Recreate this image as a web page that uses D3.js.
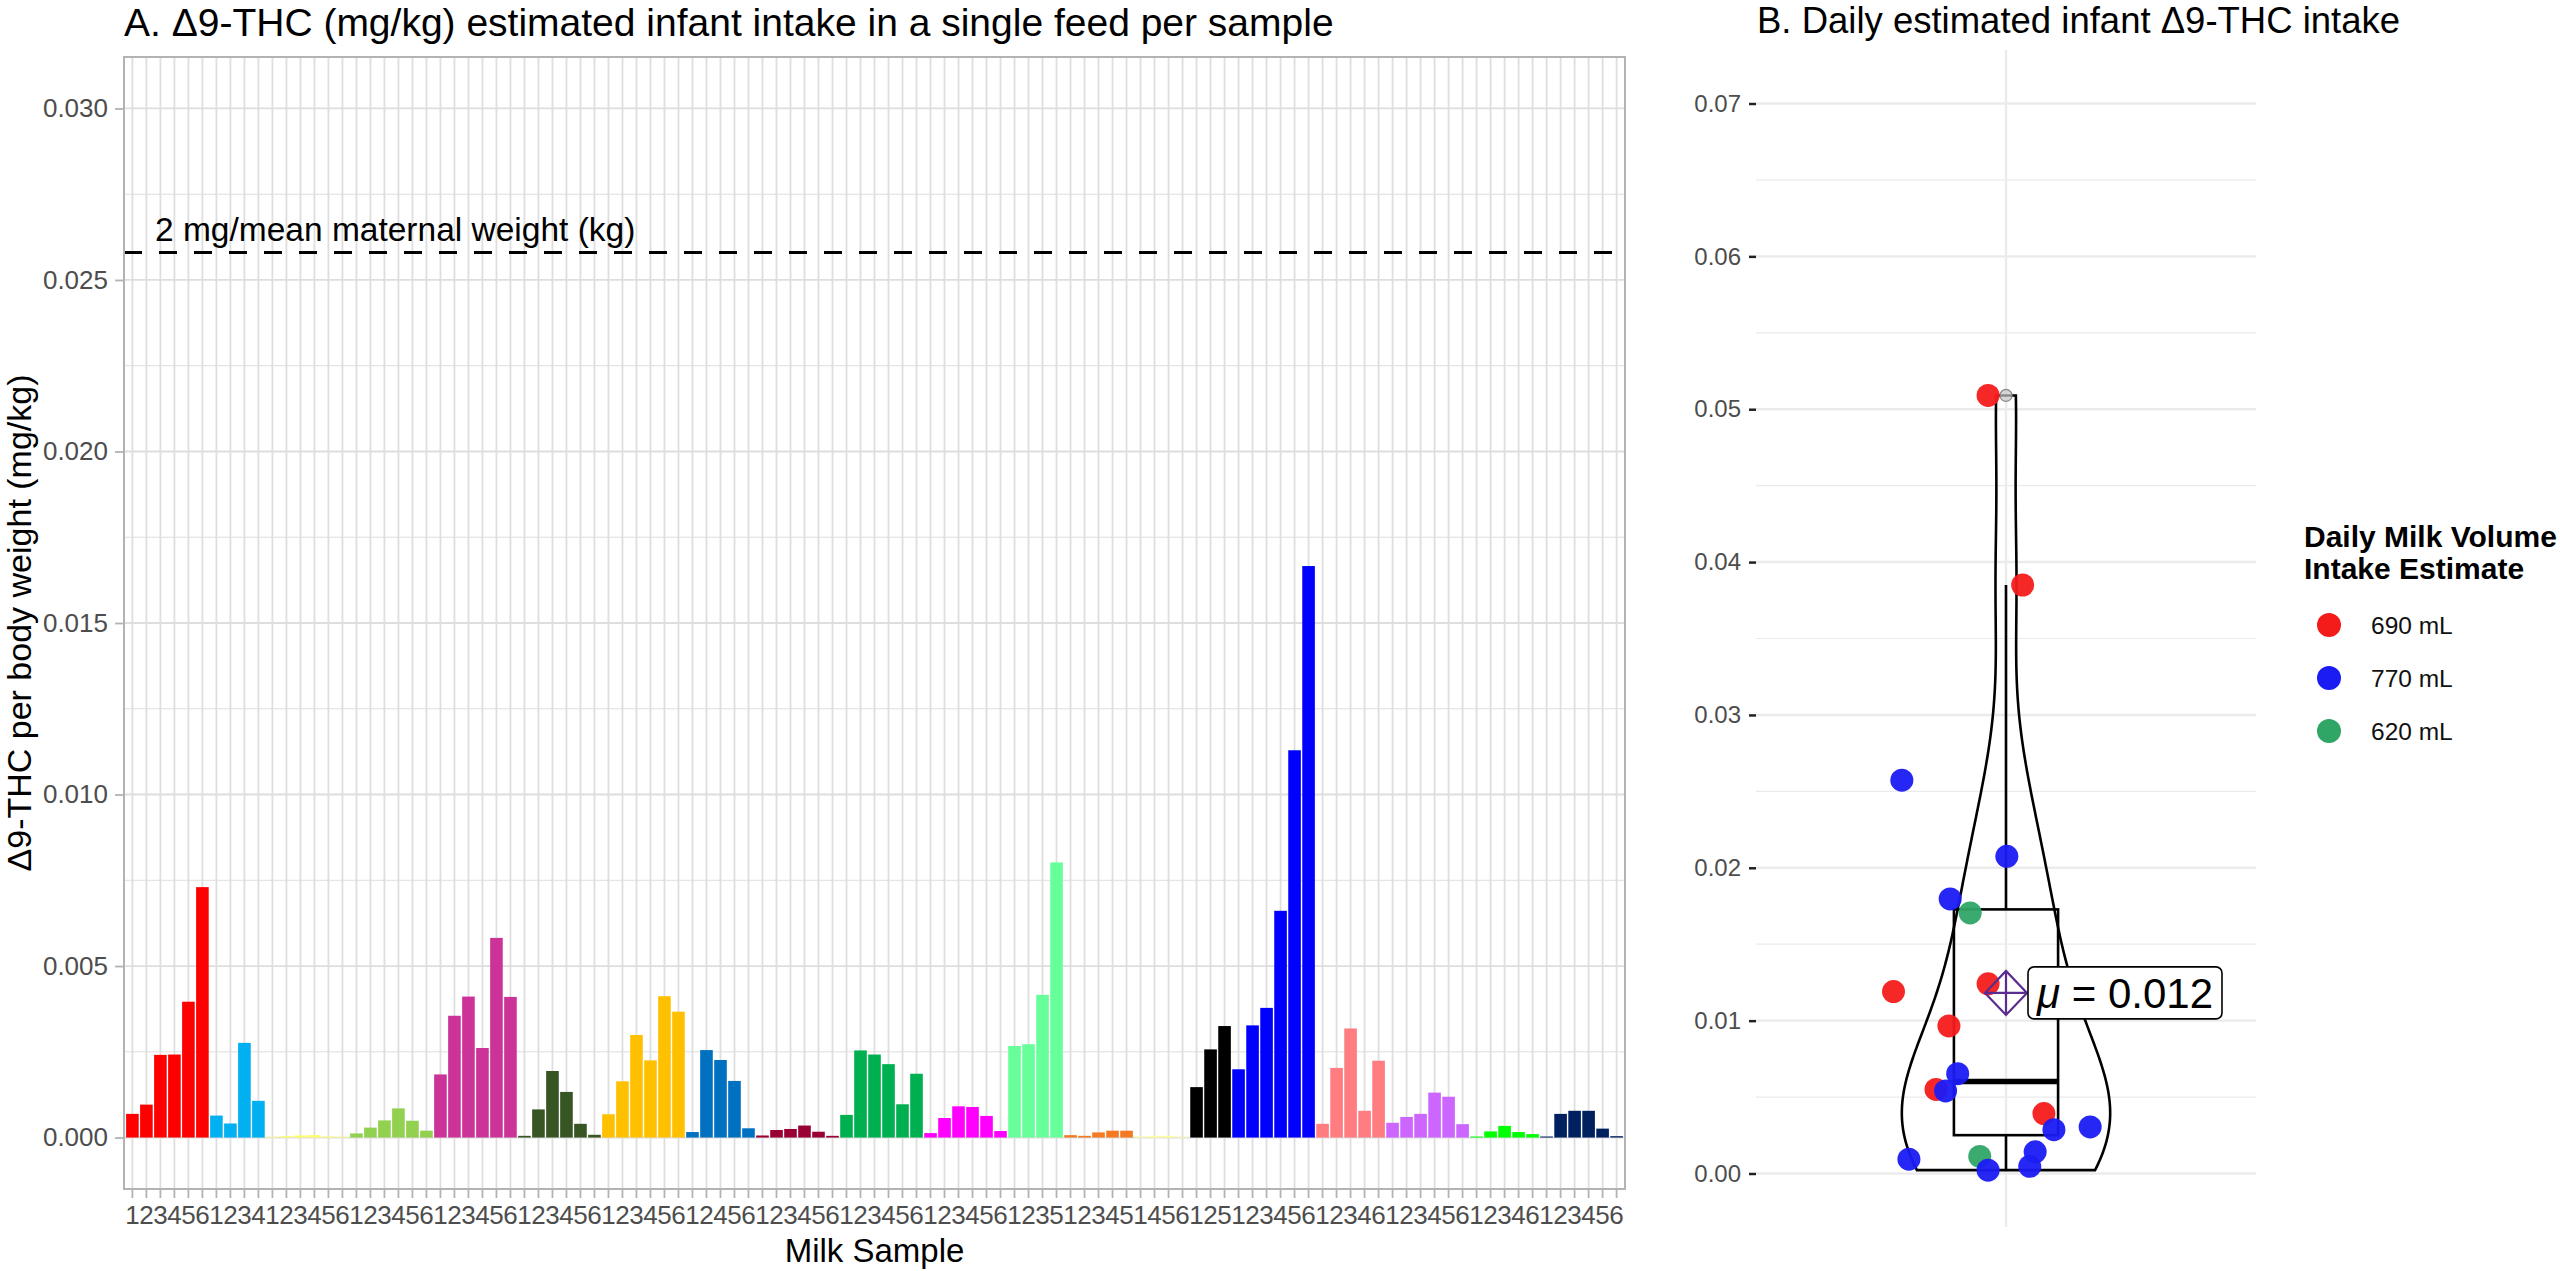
<!DOCTYPE html>
<html><head><meta charset="utf-8">
<script src="https://cdn.jsdelivr.net/npm/d3@7"></script>
<style>
body{margin:0;background:#fff}
svg{display:block}
text{font-family:"Liberation Sans",Arial,Helvetica,sans-serif}
</style>
</head><body>
<svg id="chart" width="2560" height="1271"></svg>
<script>
// ---------- Panel A data ----------
const groupColors = ["#FF0000","#00B0F0","#FFFF66","#92D050","#CC3399","#375623","#FFC000","#0070C0","#990033","#00B050",
                     "#FF00FF","#66FF99","#F47920","#FFFF99","#000000","#0000FF","#FF7C80","#CC66FF","#00FF00","#002060"];
const sampleIds = [
  [1,2,3,4,5,6],[1,2,3,4],[1,2,3,4,5,6],[1,2,3,4,5,6],[1,2,3,4,5,6],
  [1,2,3,4,5,6],[1,2,3,4,5,6],[1,2,4,5,6],[1,2,3,4,5,6],[1,2,3,4,5,6],
  [1,2,3,4,5,6],[1,2,3,5],[1,2,3,4,5],[1,4,5,6],[1,2,5],
  [1,2,3,4,5,6],[1,2,3,4,6],[1,2,3,4,5,6],[1,2,3,4,6],[1,2,3,4,5,6]
];
const thcValues = [
  [0.00069,0.00096,0.00241,0.00242,0.00396,0.0073],
  [0.00064,0.00041,0.00276,0.00107],
  [0.00002,0.00004,0.00006,0.00007,0.00003,0.00002],
  [0.00012,0.00029,0.0005,0.00085,0.00049,0.0002],
  [0.00184,0.00355,0.00411,0.00261,0.00582,0.0041],
  [0.00005,0.00082,0.00194,0.00133,0.0004,0.00008],
  [0.00068,0.00164,0.00299,0.00225,0.00412,0.00367],
  [0.00016,0.00255,0.00226,0.00165,0.00027],
  [0.00006,0.00022,0.00025,0.00035,0.00017,0.00005],
  [0.00066,0.00254,0.00242,0.00214,0.00097,0.00186],
  [0.00013,0.00057,0.00091,0.00089,0.00063,0.00019],
  [0.00267,0.00272,0.00416,0.00802],
  [0.00007,0.00005,0.00015,0.0002,0.0002],
  [0.00003,0.00005,0.00005,0.00002],
  [0.00147,0.00257,0.00325],
  [0.00199,0.00327,0.00378,0.00661,0.01129,0.01666],
  [0.0004,0.00203,0.00318,0.00078,0.00224],
  [0.00043,0.0006,0.00069,0.00131,0.00119,0.00039],
  [0.00003,0.00018,0.00034,0.00016,0.0001],
  [0.00003,0.00069,0.00078,0.00078,0.00026,0.00004]
];
const refLineValue = 0.0258;
const refLineLabel = "2 mg/mean maternal weight (kg)";
const yTicksA = [0,0.005,0.010,0.015,0.020,0.025,0.030];

// ---------- Panel B data ----------
const dailyValues = [0.0509,0.0385,0.02573,0.02075,0.01796,0.01705,0.0119,0.01241,0.00965,0.00653,
                     0.0055,0.0054,0.00392,0.00287,0.00305,0.00094,0.00112,0.00022,0.00047,0.00142];
const dailyGroup = ["690 mL","690 mL","770 mL","770 mL","770 mL","620 mL","690 mL","690 mL","690 mL","770 mL",
                    "690 mL","770 mL","690 mL","770 mL","770 mL","770 mL","620 mL","770 mL","770 mL","770 mL"];
const dailyJitter = [-0.043,0.040,-0.250,0.002,-0.134,-0.086,-0.270,-0.043,-0.137,-0.116,
                     -0.168,-0.145,0.091,0.115,0.202,-0.233,-0.063,-0.043,0.057,0.070];
const legendLevels = ["690 mL","770 mL","620 mL"];
const legendColors = ["#F41B1B","#1B1BF4","#2FA566"];
const yTicksB = [0,0.01,0.02,0.03,0.04,0.05,0.06,0.07];

// ---------- Drawing ----------
const svg = d3.select('#chart');
svg.append('rect').attr('width',2560).attr('height',1271).attr('fill','#fff');

// ===== Panel A =====
const A = {left:124,right:1625,top:57,bottom:1189};
const bars = [];
groupColors.forEach((c,g)=>{
  sampleIds[g].forEach((s,j)=>bars.push({key:bars.length,label:String(s),value:thcValues[g][j],color:c}));
});
const xA = d3.scaleBand().domain(bars.map(d=>d.key)).range([A.left,A.right]).paddingInner(0.1).paddingOuter(0.15);
const yA = d3.scaleLinear().domain([-0.0015,0.0315]).range([A.bottom,A.top]);
const gA = svg.append('g');

// minor grid
const minorA = d3.range(0.0025,0.031,0.005);
gA.selectAll('line.minA').data(minorA).join('line')
  .attr('x1',A.left).attr('x2',A.right).attr('y1',d=>yA(d)).attr('y2',d=>yA(d))
  .attr('stroke','#DEDEDE').attr('stroke-width',1);
// major grid
gA.selectAll('line.majA').data(yTicksA).join('line')
  .attr('x1',A.left).attr('x2',A.right).attr('y1',d=>yA(d)).attr('y2',d=>yA(d))
  .attr('stroke','#DEDEDE').attr('stroke-width',1.8);
gA.selectAll('line.vA').data(bars).join('line')
  .attr('y1',A.top).attr('y2',A.bottom)
  .attr('x1',d=>xA(d.key)+xA.bandwidth()/2).attr('x2',d=>xA(d.key)+xA.bandwidth()/2)
  .attr('stroke','#DEDEDE').attr('stroke-width',1.8);

// bars
gA.selectAll('rect.bar').data(bars).join('rect')
  .attr('x',d=>xA(d.key)).attr('width',xA.bandwidth())
  .attr('y',d=>yA(d.value)).attr('height',d=>yA(0)-yA(d.value))
  .attr('fill',d=>d.color);

// reference line
gA.append('line').attr('x1',A.left).attr('x2',A.right)
  .attr('y1',yA(refLineValue)).attr('y2',yA(refLineValue))
  .attr('stroke','#000').attr('stroke-width',3).attr('stroke-dasharray','18 17');
gA.append('text').attr('x',155).attr('y',yA(refLineValue)-12)
  .attr('font-size',33.5).attr('fill','#000').text(refLineLabel);

// border
gA.append('rect').attr('x',A.left).attr('y',A.top).attr('width',A.right-A.left).attr('height',A.bottom-A.top)
  .attr('fill','none').attr('stroke','#B3B3B3').attr('stroke-width',2);

// axes
const axL = gA.append('g').attr('transform',`translate(${A.left},0)`)
  .call(d3.axisLeft(yA).tickValues(yTicksA).tickFormat(d3.format('.3f')).tickSize(9).tickPadding(7));
axL.select('.domain').remove();
axL.selectAll('line').attr('stroke','#B3B3B3').attr('stroke-width',1.8);
axL.selectAll('text').attr('font-size',26).attr('fill','#4D4D4D').attr('font-family','"Liberation Sans",Arial,sans-serif');
const axB = gA.append('g').attr('transform',`translate(0,${A.bottom})`)
  .call(d3.axisBottom(xA).tickFormat(k=>bars[k].label).tickSize(9).tickPadding(8));
axB.select('.domain').remove();
axB.selectAll('line').attr('stroke','#B3B3B3').attr('stroke-width',1.8);
axB.selectAll('text').attr('font-size',26).attr('fill','#4D4D4D').attr('font-family','"Liberation Sans",Arial,sans-serif');

gA.append('text').attr('x',(A.left+A.right)/2).attr('y',1262).attr('text-anchor','middle')
  .attr('font-size',33).text('Milk Sample');
gA.append('text').attr('transform',`translate(31,${(A.top+A.bottom)/2}) rotate(-90)`).attr('text-anchor','middle')
  .attr('font-size',34).text('Δ9-THC per body weight (mg/kg)');
gA.append('text').attr('x',124).attr('y',36).attr('font-size',39)
  .text('A. Δ9-THC (mg/kg) estimated infant intake in a single feed per sample');

// ===== Panel B =====
const B = {left:1756,right:2256,top:50,bottom:1227};
const xB = d3.scaleLinear().domain([0.4,1.6]).range([B.left,B.right]);
const yB = d3.scaleLinear().domain([-0.0035,0.0735]).range([B.bottom,B.top]);
const gB = svg.append('g');
const minorB = d3.range(0.005,0.07,0.01);
gB.selectAll('line.minB').data(minorB).join('line')
  .attr('x1',B.left).attr('x2',B.right).attr('y1',d=>yB(d)).attr('y2',d=>yB(d))
  .attr('stroke','#EBEBEB').attr('stroke-width',1.2);
gB.selectAll('line.majB').data(yTicksB).join('line')
  .attr('x1',B.left).attr('x2',B.right).attr('y1',d=>yB(d)).attr('y2',d=>yB(d))
  .attr('stroke','#EBEBEB').attr('stroke-width',2.4);
gB.append('line').attr('x1',xB(1)).attr('x2',xB(1)).attr('y1',B.top).attr('y2',B.bottom)
  .attr('stroke','#EBEBEB').attr('stroke-width',2.4);

const axBL = gB.append('g').attr('transform',`translate(${B.left},0)`)
  .call(d3.axisLeft(yB).tickValues(yTicksB).tickFormat(d3.format('.2f')).tickSize(7).tickPadding(8));
axBL.select('.domain').remove();
axBL.selectAll('line').attr('stroke','#222').attr('stroke-width',2.5);
axBL.selectAll('text').attr('font-size',24).attr('fill','#4D4D4D').attr('font-family','"Liberation Sans",Arial,sans-serif');

// stats
const sorted = dailyValues.slice().sort(d3.ascending);
const n = sorted.length;
const q1 = d3.quantile(sorted,0.25), med = d3.quantile(sorted,0.5), q3 = d3.quantile(sorted,0.75);
const iqr = q3-q1;
const sd = d3.deviation(sorted);
const bw = 0.9*Math.min(sd, iqr/1.34)*Math.pow(n,-0.2);
const lo = d3.min(sorted), hi = d3.max(sorted);
const grid = d3.range(512).map(i=>lo+(hi-lo)*i/511);
const dens = grid.map(y=>({y, d:d3.mean(sorted,v=>Math.exp(-0.5*((y-v)/bw)**2))}));
const maxD = d3.max(dens,d=>d.d);
const violinHalf = 0.25;
const area = d3.area().y(d=>yB(d.y))
  .x0(d=>xB(1-violinHalf*d.d/maxD)).x1(d=>xB(1+violinHalf*d.d/maxD));
gB.append('path').attr('d',area(dens)).attr('fill','none').attr('stroke','#000').attr('stroke-width',2.6);

// boxplot
const boxHalf = 0.125;
const upFence = q3+1.5*iqr, loFence = q1-1.5*iqr;
const whiskHi = d3.max(sorted.filter(v=>v<=upFence));
const whiskLo = d3.min(sorted.filter(v=>v>=loFence));
const outliers = sorted.filter(v=>v>upFence||v<loFence);
gB.append('line').attr('x1',xB(1)).attr('x2',xB(1)).attr('y1',yB(q3)).attr('y2',yB(whiskHi)).attr('stroke','#000').attr('stroke-width',2.6);
gB.append('line').attr('x1',xB(1)).attr('x2',xB(1)).attr('y1',yB(q1)).attr('y2',yB(whiskLo)).attr('stroke','#000').attr('stroke-width',2.6);
gB.append('rect').attr('x',xB(1-boxHalf)).attr('width',xB(1+boxHalf)-xB(1-boxHalf))
  .attr('y',yB(q3)).attr('height',yB(q1)-yB(q3)).attr('fill','none').attr('stroke','#000').attr('stroke-width',2.6);
gB.append('line').attr('x1',xB(1-boxHalf)).attr('x2',xB(1+boxHalf)).attr('y1',yB(med)).attr('y2',yB(med))
  .attr('stroke','#000').attr('stroke-width',5.5);
gB.selectAll('circle.out').data(outliers).join('circle')
  .attr('cx',xB(1)).attr('cy',d=>yB(d)).attr('r',6)
  .attr('fill','#c8c8c8').attr('fill-opacity',0.7).attr('stroke','#888').attr('stroke-width',1.2);

// points
const colorB = d3.scaleOrdinal().domain(legendLevels).range(legendColors);
gB.selectAll('circle.pt').data(dailyValues.map((v,i)=>({v,g:dailyGroup[i],j:dailyJitter[i]}))).join('circle')
  .attr('cx',d=>xB(1+d.j)).attr('cy',d=>yB(d.v)).attr('r',11.5)
  .attr('fill',d=>colorB(d.g)).attr('fill-opacity',0.95);

// mean marker
const mean = d3.mean(dailyValues);
const mx = xB(1), my = yB(mean), dw = 21, dh = 22;
gB.append('path').attr('d',`M${mx-dw},${my}L${mx},${my-dh}L${mx+dw},${my}L${mx},${my+dh}Z M${mx-dw},${my}H${mx+dw} M${mx},${my-dh}V${my+dh}`)
  .attr('fill','none').attr('stroke','#5B2C8F').attr('stroke-width',2.2);

// mean label
const lblG = gB.append('g');
const lblText = lblG.append('text').attr('x',mx+31).attr('y',my+15).attr('font-size',42).attr('fill','#000');
lblText.append('tspan').attr('font-style','italic').text('μ');
lblText.append('tspan').text(' = '+d3.format('.3f')(mean));
const bb = lblText.node().getBBox();
lblG.insert('rect','text').attr('x',mx+22).attr('y',my-26).attr('width',bb.x+bb.width+9-(mx+22)).attr('height',52)
  .attr('rx',6).attr('ry',6).attr('fill','#fff').attr('stroke','#000').attr('stroke-width',1.6);

gB.append('text').attr('x',1757).attr('y',33).attr('font-size',36.5)
  .text('B. Daily estimated infant Δ9-THC intake');

// legend
const lg = svg.append('g');
lg.append('text').attr('x',2304).attr('y',547).attr('font-size',30).attr('font-weight','bold').text('Daily Milk Volume');
lg.append('text').attr('x',2304).attr('y',579).attr('font-size',30).attr('font-weight','bold').text('Intake Estimate');
legendLevels.forEach((l,i)=>{
  const cy = 625 + i*53;
  lg.append('circle').attr('cx',2329).attr('cy',cy).attr('r',12).attr('fill',legendColors[i]);
  lg.append('text').attr('x',2371).attr('y',cy).attr('dy','0.35em').attr('font-size',24.5).attr('fill','#111').text(l);
});
</script>
</body></html>
